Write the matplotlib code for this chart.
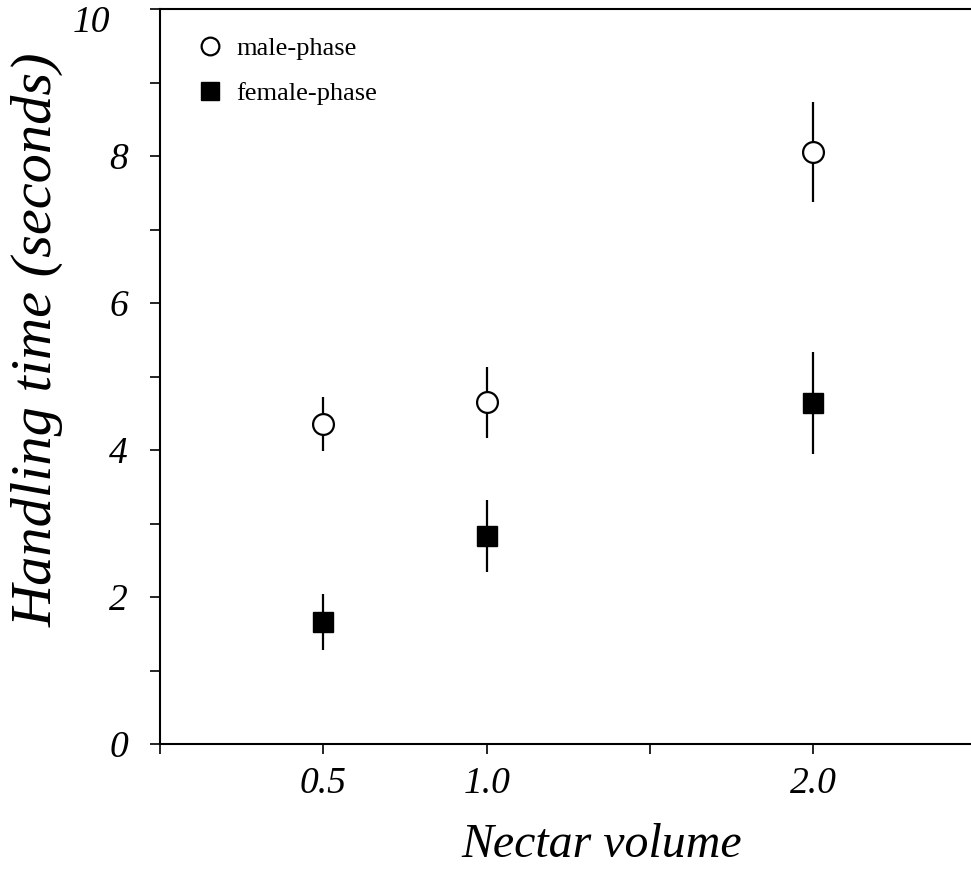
import matplotlib
matplotlib.use("Agg")
import matplotlib.pyplot as plt
from matplotlib.ticker import MultipleLocator

plt.rcParams["font.family"] = "Liberation Serif"

# nectar volume and handling time (mean +/- error)
volume = [0.5, 1.0, 2.0]
male_mean = [4.35, 4.65, 8.05]
male_err = [0.37, 0.48, 0.68]
female_mean = [1.66, 2.83, 4.64]
female_err = [0.38, 0.49, 0.69]

xticks = [0, 0.5, 1.0, 1.5, 2.0, 2.5]
xticklabels = ['', '0.5', '1.0', '', '2.0', '']
yticks = [0, 2, 4, 6, 8, 10]
yticklabels = ['0', '2', '4', '6', '8', '']   # "10" placed separately below

fig = plt.figure(figsize=(9.71, 8.81), dpi=100)
ax = fig.add_axes([160 / 971, 137 / 881, 816.5 / 971, 735 / 881])

ax.errorbar(volume, male_mean, yerr=male_err, fmt='o', color='black',
            mfc='white', mec='black', ms=15, mew=1.6, elinewidth=1.6,
            capsize=0, label='male-phase', zorder=3)
ax.errorbar(volume, female_mean, yerr=female_err, fmt='s', color='black',
            mfc='black', mec='black', ms=15, mew=1.0, elinewidth=1.6,
            capsize=0, label='female-phase', zorder=3)

ax.set_xlim(0, 2.5)
ax.set_ylim(0, 10)
ax.set_xticks(xticks)
ax.set_xticklabels(xticklabels, fontsize=27, style='italic')
ax.set_yticks(yticks)
ax.set_yticklabels(yticklabels, fontsize=27, style='italic')
ax.yaxis.set_minor_locator(MultipleLocator(1))
ax.tick_params(axis='both', which='both', direction='out', length=7, width=1.2)
ax.tick_params(axis='x', pad=9)
ax.tick_params(axis='y', pad=16)
for s in ax.spines.values():
    s.set_linewidth(1.5)

# top label sits a little lower than its tick, as in the original
ax.annotate('10', xy=(0, yticks[-1]), xycoords=('axes fraction', 'data'),
            xytext=(-36, -10), textcoords='offset points',
            ha='right', va='center', fontsize=27, style='italic')

ax.set_xlabel('Nectar volume', fontsize=34.5, style='italic')
ax.xaxis.set_label_coords(0.541, -0.108)
ax.set_ylabel('Handling time (seconds)', fontsize=42, style='italic')
ax.yaxis.set_label_coords(-0.118, 0.55)

handles, labels = ax.get_legend_handles_labels()
handles = [h[0] for h in handles]
ax.legend(handles, labels, loc='upper left', bbox_to_anchor=(0.019, 0.9945),
          frameon=False, fontsize=19, markerscale=0.85, handlelength=0.8,
          handletextpad=0.6, labelspacing=0.82)

fig.savefig('out.png', dpi=100)
